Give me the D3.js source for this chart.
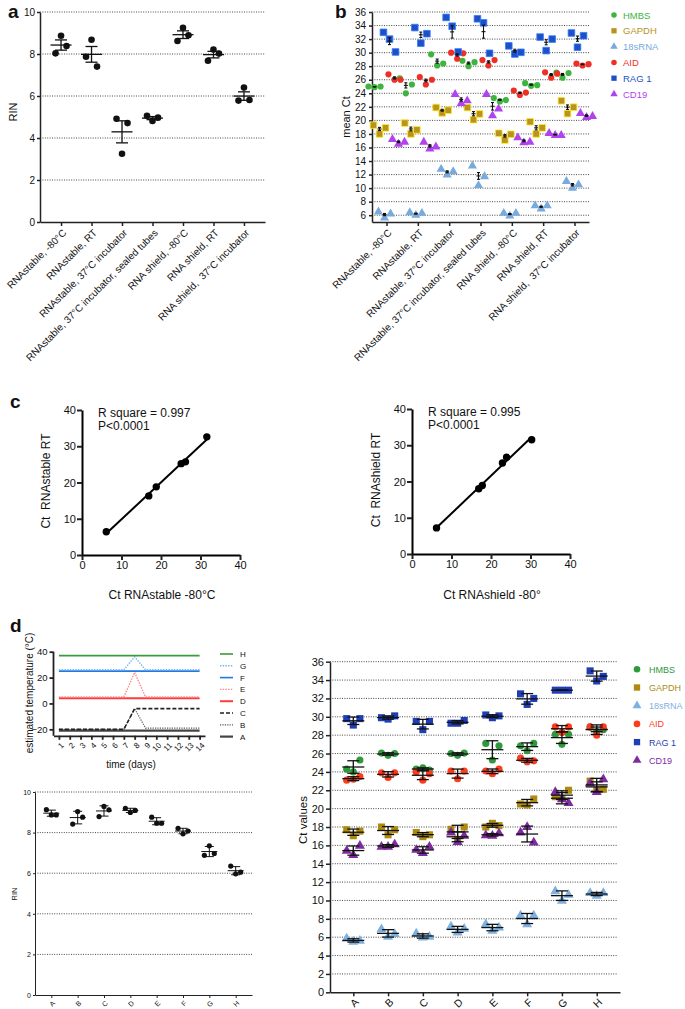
<!DOCTYPE html>
<html>
<head>
<meta charset="utf-8">
<script src="https://cdn.jsdelivr.net/npm/d3@7/dist/d3.min.js"></script>
<style>
  body { margin: 0; background: #fff; }
  text { white-space: pre; }
</style>
</head>
<body>
<svg id="fig" width="685" height="1009"></svg>
<script>
// ---------- panel a : RIN per storage condition
var conditions = ["RNAstable, -80°C", "RNAstable, RT", "RNAstable, 37°C incubator",
  "RNAstable, 37°C incubator, sealed tubes", "RNA shield, -80°C", "RNA shield, RT", "RNA shield,  37°C incubator"];
var rinA = [[8.03, 8.87, 8.38], [7.87, 8.68, 7.40], [4.92, 3.25, 4.71], [5.06, 4.81, 4.97],
  [8.62, 9.25, 8.89], [7.68, 8.21, 8.02], [5.78, 6.40, 5.81]];
var ticksA = [0, 2, 4, 6, 8, 10];

// ---------- panel b : mean Ct per gene and condition
var genes = ["HMBS", "GAPDH", "18sRNA", "AID", "RAG 1", "CD19"];
var ctB_HMBS = [[25.0, 24.9, 25.0], [26.2, 24.0, 25.3], [29.75, 28.1, 28.4], [28.8, 28.0, 28.6], [23.3, 22.8, 23.0], [25.5, 25.1, 25.2], [27.05, 26.3, 27.0]];
var ctB_GAPDH = [[19.3, 18.0, 18.9], [19.6, 18.0, 18.6], [21.9, 21.1, 21.5], [21.9, 20.1, 20.95], [18.1, 17.1, 17.95], [19.8, 18.0, 18.9], [22.9, 21.0, 21.95]];
var ctB_18s = [[6.5, 5.6, 6.2], [6.4, 6.0, 6.3], [12.8, 11.95, 12.45], [13.3, 10.4, 11.7], [6.3, 5.9, 6.3], [7.4, 6.95, 7.4], [11.0, 10.0, 10.5]];
var ctB_AID = [[26.8, 26.0, 26.0], [26.4, 25.3, 26.0], [30.0, 29.1, 29.9], [28.9, 28.1, 28.9], [24.4, 23.75, 24.1], [27.1, 26.3, 26.9], [28.4, 28.1, 28.3]];
var ctB_RAG1 = [[33.0, 32.0, 30.1], [33.7, 31.4, 32.8], [35.2, 33.9, 30.1], [35.0, 34.4, 29.9], [31.0, 29.8, 30.05], [32.3, 30.3, 32.0], [32.9, 30.8, 32.5]];
var ctB_CD19 = [[17.2, 16.5, 16.8], [16.8, 15.8, 16.1], [23.85, 22.5, 22.9], [23.85, 20.7, 21.7], [17.45, 16.7, 16.8], [18.1, 17.8, 17.8], [21.05, 20.45, 20.6]];
var ticksB = [6, 8, 10, 12, 14, 16, 18, 20, 22, 24, 26, 28, 30, 32, 34, 36];

// ---------- panel c : RT vs -80°C
var ctStableM80 = [6.15, 16.9, 18.8, 25.1, 26.2, 31.6];
var ctStableRT = [6.4, 16.3, 18.8, 25.2, 25.7, 32.6];
var ctShieldM80 = [6.2, 16.9, 17.8, 22.9, 23.95, 30.3];
var ctShieldRT = [7.2, 18.0, 18.9, 25.1, 26.7, 31.5];
var ticksC = [0, 10, 20, 30, 40];

// ---------- panel d : temperature profiles
var days = [1, 2, 3, 4, 5, 6, 7, 8, 9, 10, 11, 12, 13, 14];
var tempH = [37, 37, 37, 37, 37, 37, 37, 37, 37, 37, 37, 37, 37, 37];
var tempG = [26, 26, 26, 26, 26, 26, 26, 36, 26, 26, 26, 26, 26, 26];
var tempF = [25, 25, 25, 25, 25, 25, 25, 25, 25, 25, 25, 25, 25, 25];
var tempE = [5, 5, 5, 5, 5, 5, 5, 24, 5, 5, 5, 5, 5, 5];
var tempD = [4, 4, 4, 4, 4, 4, 4, 4, 4, 4, 4, 4, 4, 4];
var tempC = [-20, -20, -20, -20, -20, -20, -20, -4, -4, -4, -4, -4, -4, -4];
var tempB = [-20, -20, -20, -20, -20, -20, -20, -4, -19, -19, -19, -19, -19, -19];
var tempA = [-21, -21, -21, -21, -21, -21, -21, -21, -21, -21, -21, -21, -21, -21];
var ticksTemp = [-20, 0, 20, 40];

// ---------- panel d : RIN and Ct per condition A-H
var groupsD = ["A", "B", "C", "D", "E", "F", "G", "H"];
var rinD = [[9.13, 8.87, 8.87], [8.42, 9.04, 8.76], [8.79, 9.29, 9.12], [9.20, 8.99, 9.09],
  [8.76, 8.46, 8.46], [8.21, 7.94, 8.08], [6.88, 7.35, 6.97], [6.35, 5.97, 6.05]];
var ctD_HMBS = [[24.3, 24.0, 25.3], [26.05, 25.8, 26.0], [24.3, 24.45, 24.2], [26.0, 25.8, 26.05], [27.1, 25.3, 26.85], [26.85, 26.3, 27.1], [28.1, 27.0, 28.1], [28.9, 28.4, 28.6]];
var ctD_GAPDH = [[17.7, 17.05, 17.55], [18.0, 17.15, 17.7], [17.4, 16.95, 17.15], [17.75, 16.65, 18.0], [18.0, 18.4, 18.15], [20.5, 20.4, 21.05], [21.3, 21.1, 22.0], [23.0, 22.0, 22.1]];
var ctD_18s = [[5.85, 5.5, 5.6], [6.85, 6.05, 6.35], [6.4, 5.95, 6.05], [7.15, 6.5, 6.9], [7.4, 6.7, 7.05], [8.35, 7.4, 8.35], [11.0, 9.97, 10.6], [10.8, 10.5, 10.8]];
var ctD_AID = [[23.1, 23.2, 23.5], [23.9, 23.4, 23.9], [24.0, 23.1, 23.8], [24.1, 23.25, 24.1], [24.1, 23.8, 24.3], [25.5, 25.1, 25.2], [28.9, 28.3, 28.9], [28.9, 28.0, 28.9]];
var ctD_RAG1 = [[29.8, 29.1, 29.8], [29.9, 29.75, 30.1], [29.5, 28.6, 29.5], [29.3, 29.3, 29.6], [30.2, 29.9, 30.1], [32.5, 31.35, 32.0], [32.9, 32.9, 32.9], [35.0, 33.9, 34.4]];
var ctD_CD19 = [[15.4, 14.95, 15.95], [15.85, 15.85, 16.1], [15.5, 15.15, 15.85], [17.4, 16.35, 17.05], [17.1, 17.05, 17.3], [17.4, 18.0, 16.3], [21.8, 21.0, 20.6], [22.75, 21.8, 23.2]];
var ticksD = [0, 2, 4, 6, 8, 10, 12, 14, 16, 18, 20, 22, 24, 26, 28, 30, 32, 34, 36];

// ================= drawing
var FONT = "'Liberation Sans', Arial, Helvetica, sans-serif";
var svg = d3.select("#fig").attr("font-family", FONT);
var spread = [-5.5, 0, 5.5];
var shapes = [d3.symbolCircle, d3.symbolSquare, d3.symbolTriangle, d3.symbolCircle, d3.symbolSquare, d3.symbolTriangle];

function label(x, y, s, size, weight) {
  return svg.append("text").attr("x", x).attr("y", y).attr("font-size", size)
    .attr("font-weight", weight || "normal").attr("fill", "#111").text(s);
}
function vlabel(x, y, s, size) {
  return svg.append("text").attr("transform", "translate(" + x + "," + y + ") rotate(-90)")
    .attr("text-anchor", "middle").attr("font-size", size).attr("fill", "#111").text(s);
}
function grid(g, y, ticks, x0, x1) {
  g.selectAll(null).data(ticks).enter().append("line")
    .attr("x1", x0).attr("x2", x1).attr("y1", function(d) { return y(d); }).attr("y2", function(d) { return y(d); })
    .attr("stroke", "#333").attr("stroke-width", 0.9).attr("stroke-dasharray", "1,1.4");
}
function styleAxis(g, size, w) {
  g.attr("font-family", FONT).attr("font-size", size);
  g.select(".domain").attr("stroke", "#222").attr("stroke-width", w);
  g.selectAll(".tick line").attr("stroke", "#222").attr("stroke-width", w);
  g.selectAll(".tick text").attr("fill", "#111");
}
function tiltLabels(g, dx, dy) {
  g.selectAll(".tick text").attr("x", 0).attr("y", 0).attr("dy", "0.35em")
    .attr("text-anchor", "end").attr("transform", "translate(" + dx + "," + dy + ") rotate(-45)");
}
function errBar(g, cx, m, e, y, wMean, wCap, sw) {
  g.append("line").attr("x1", cx).attr("x2", cx).attr("y1", y(m - e)).attr("y2", y(m + e));
  g.append("line").attr("x1", cx - wCap / 2).attr("x2", cx + wCap / 2).attr("y1", y(m - e)).attr("y2", y(m - e));
  g.append("line").attr("x1", cx - wCap / 2).attr("x2", cx + wCap / 2).attr("y1", y(m + e)).attr("y2", y(m + e));
  g.append("line").attr("x1", cx - wMean / 2).attr("x2", cx + wMean / 2).attr("y1", y(m)).attr("y2", y(m));
  g.selectAll("line").attr("stroke", "#111").attr("stroke-width", sw);
}
function sem(v) { return d3.deviation(v) / Math.sqrt(v.length); }

// ---------- a
(function() {
  var x = d3.scalePoint().domain(conditions).range([40, 265]).padding(0.69);
  var y = d3.scaleLinear().domain([0, 10]).range([222, 12]);
  var g = svg.append("g");
  grid(g, y, ticksA.slice(1), 40, 265);
  var xa = g.append("g").attr("transform", "translate(0,222)").call(d3.axisBottom(x).tickSize(4).tickSizeOuter(0));
  styleAxis(xa, 10, 1.5); tiltLabels(xa, 3, 9);
  var ya = g.append("g").attr("transform", "translate(40,0)").call(d3.axisLeft(y).tickValues(ticksA).tickSize(3).tickSizeOuter(0).tickPadding(2));
  styleAxis(ya, 10, 1.5);
  conditions.forEach(function(c, i) {
    var v = rinA[i];
    g.selectAll(null).data(v).enter().append("circle")
      .attr("cx", function(d, j) { return x(c) + spread[j]; }).attr("cy", function(d) { return y(d); })
      .attr("r", 3.3).attr("fill", "#111");
    errBar(g.append("g"), x(c), d3.mean(v), sem(v), y, 21, 12, 1.3);
  });
  label(8, 18, "a", 19, "bold");
  vlabel(17, 112, "RIN", 11);
})();

// ---------- b
(function() {
  var colors = ["#3db43d", "#b8931e", "#78aadb", "#ee2f26", "#1f4fc6", "#b143ef"];
  var series = [ctB_HMBS, ctB_GAPDH, ctB_18s, ctB_AID, ctB_RAG1, ctB_CD19];
  var geneShift = [-12, -7, -2, 8, 3, 12];
  var x = d3.scalePoint().domain(conditions).range([372, 589]).padding(0.463);
  var y = d3.scaleLinear().domain([5, 36]).range([222, 12]);
  var g = svg.append("g");
  grid(g, y, ticksB, 372, 589);
  var xa = g.append("g").attr("transform", "translate(0,222)").call(d3.axisBottom(x).tickSize(4).tickSizeOuter(0));
  styleAxis(xa, 10, 1.5); tiltLabels(xa, 3, 9);
  var ya = g.append("g").attr("transform", "translate(372,0)").call(d3.axisLeft(y).tickValues(ticksB).tickSize(3).tickSizeOuter(0).tickPadding(3));
  styleAxis(ya, 10, 1.5);
  var sizes = [30, 44, 36, 30, 44, 36];
  series.forEach(function(s, k) {
    var col = colors[k];
    var sym = d3.symbol().type(shapes[k]).size(sizes[k]);
    conditions.forEach(function(c, i) {
      var cx = x(c) + geneShift[k];
      g.selectAll(null).data(s[i]).enter().append("path").attr("d", sym)
        .attr("transform", function(d, j) { return "translate(" + (cx + spread[j] * 1.1) + "," + y(d) + ")"; })
        .attr("fill", col).attr("stroke", k == 1 || k == 4 ? d3.color(col).brighter(1.3) : "none").attr("stroke-width", 0.8);
    });
  });
  series.forEach(function(s, k) {
    conditions.forEach(function(c, i) {
      errBar(g.append("g"), x(c) + geneShift[k], d3.mean(s[i]), sem(s[i]) * 0.6, y, 4, 3, 1.1);
    });
  });
  genes.forEach(function(gn, k) {
    var ly = 15 + 15.8 * k;
    g.append("path").attr("d", d3.symbol().type(shapes[k]).size(k == 1 || k == 4 ? 28 : 24))
      .attr("transform", "translate(614," + ly + ")").attr("fill", colors[k]);
    g.append("text").attr("x", 623).attr("y", ly + 3.5).attr("font-size", 9.5).attr("fill", colors[k]).text(gn);
  });
  label(335, 18, "b", 19, "bold");
  vlabel(350, 117, "mean Ct", 11);
})();

// ---------- c
function scatterC(xv, yv, x0, y0, rText, xTitle, yTitle, yTitleX) {
  var x = d3.scaleLinear().domain([0, 40]).range([x0, x0 + 158]);
  var y = d3.scaleLinear().domain([0, 40]).range([y0, y0 - 145]);
  var g = svg.append("g");
  var xa = g.append("g").attr("transform", "translate(0," + y0 + ")").call(d3.axisBottom(x).tickValues(ticksC).tickSize(5).tickSizeOuter(0).tickPadding(1));
  styleAxis(xa, 11, 2);
  var ya = g.append("g").attr("transform", "translate(" + x0 + ",0)").call(d3.axisLeft(y).tickValues(ticksC).tickSize(5).tickSizeOuter(0).tickPadding(1));
  styleAxis(ya, 11, 2);
  xa.select(".domain").attr("stroke", "#000"); ya.select(".domain").attr("stroke", "#000");
  // least-squares fit through the points
  var mx = d3.mean(xv), my = d3.mean(yv);
  var b = d3.sum(xv, function(d, i) { return (d - mx) * (yv[i] - my); }) / d3.sum(xv, function(d) { return (d - mx) * (d - mx); });
  var a0 = my - b * mx;
  var ext = d3.extent(xv);
  g.append("line").attr("x1", x(ext[0])).attr("x2", x(ext[1])).attr("y1", y(a0 + b * ext[0])).attr("y2", y(a0 + b * ext[1]))
    .attr("stroke", "#000").attr("stroke-width", 2);
  g.selectAll(null).data(xv).enter().append("circle")
    .attr("cx", function(d) { return x(d); }).attr("cy", function(d, i) { return y(yv[i]); })
    .attr("r", 3.7).attr("fill", "#000");
  label(x0 + 16, y0 - 138, "R square = " + rText, 12);
  label(x0 + 16, y0 - 125, "P<0.0001", 12);
  svg.append("text").attr("x", x0 + 80).attr("y", 599).attr("text-anchor", "middle").attr("font-size", 12).attr("fill", "#111").text(xTitle);
  vlabel(yTitleX, y0 - 74, yTitle, 12);
}
scatterC(ctStableM80, ctStableRT, 82, 555, "0.997", "Ct RNAstable -80°C", "Ct  RNAstable RT", 50);
scatterC(ctShieldM80, ctShieldRT, 412, 554, "0.995", "Ct RNAshield -80°", "Ct  RNAshield RT", 380);
label(10, 408, "c", 19, "bold");

// ---------- d : temperature
(function() {
  var x = d3.scaleLinear().domain([0.5, 14.5]).range([53.5, 205]);
  var y = d3.scaleLinear().domain([-25, 40]).range([735.8, 651.7]);
  var g = svg.append("g");
  var series = [
    { k: "H", v: tempH, c: "#3c9a3c", dash: null, w: 1.6 },
    { k: "G", v: tempG, c: "#7db6f3", dash: "1.5,1.2", w: 1.4 },
    { k: "F", v: tempF, c: "#1f7ae6", dash: null, w: 1.6 },
    { k: "E", v: tempE, c: "#ff8a8a", dash: "1.5,1.2", w: 1.4 },
    { k: "D", v: tempD, c: "#ff3b3b", dash: null, w: 2 },
    { k: "C", v: tempC, c: "#222", dash: "4,2", w: 1.6 },
    { k: "B", v: tempB, c: "#555", dash: "1.2,1.2", w: 1.2 },
    { k: "A", v: tempA, c: "#444", dash: null, w: 2.2 }
  ];
  var line = d3.line().x(function(d, i) { return x(days[i]); }).y(function(d) { return y(d); });
  series.slice().reverse().forEach(function(s) {
    g.append("path").attr("d", line(s.v)).attr("fill", "none").attr("stroke", s.c)
      .attr("stroke-width", s.w).attr("stroke-dasharray", s.dash);
  });
  var xa = g.append("g").attr("transform", "translate(0,735.8)").call(d3.axisBottom(x).tickValues(days).tickSize(4).tickSizeOuter(0));
  styleAxis(xa, 8, 1.8); tiltLabels(xa, 3, 8);
  var ya = g.append("g").attr("transform", "translate(53.5,0)").call(d3.axisLeft(y).tickValues(ticksTemp).tickSize(4).tickSizeOuter(0).tickPadding(2));
  styleAxis(ya, 9.5, 1.8);
  ya.select(".domain").attr("d", "M0," + y(40) + "V735.8");
  series.forEach(function(s, i) {
    var ly = 654 + 11.8 * i;
    g.append("line").attr("x1", 220).attr("x2", 233).attr("y1", ly).attr("y2", ly)
      .attr("stroke", s.c).attr("stroke-width", s.w).attr("stroke-dasharray", s.dash);
    g.append("text").attr("x", 240).attr("y", ly + 3).attr("font-size", 8).attr("fill", "#111").text(s.k);
  });
  svg.append("text").attr("x", 131).attr("y", 768).attr("text-anchor", "middle").attr("font-size", 10).attr("fill", "#111").text("time (days)");
  vlabel(33, 693, "estimated temperature (°C)", 10);
  label(10, 632, "d", 19, "bold");
})();

// ---------- d : RIN
(function() {
  var x = d3.scalePoint().domain(groupsD).range([35, 252]).padding(0.62);
  var y = d3.scaleLinear().domain([0, 10]).range([995, 792]);
  var g = svg.append("g");
  grid(g, y, [2, 4, 6, 8, 10], 35, 252);
  var xa = g.append("g").attr("transform", "translate(0,995)").call(d3.axisBottom(x).tickSize(3).tickSizeOuter(0));
  styleAxis(xa, 7, 1); tiltLabels(xa, 2, 7);
  var ya = g.append("g").attr("transform", "translate(35,0)").call(d3.axisLeft(y).tickValues(ticksA).tickSize(2).tickSizeOuter(0).tickPadding(2));
  styleAxis(ya, 7, 1);
  groupsD.forEach(function(c, i) {
    var v = rinD[i];
    g.selectAll(null).data(v).enter().append("circle")
      .attr("cx", function(d, j) { return x(c) + spread[j] * 0.9; }).attr("cy", function(d) { return y(d); })
      .attr("r", 2.6).attr("fill", "#111");
    errBar(g.append("g"), x(c), d3.mean(v), d3.deviation(v), y, 16, 9, 1);
  });
  vlabel(17, 894, "RIN", 7.5);
})();

// ---------- d : Ct values
(function() {
  var colors = ["#2f9a3c", "#ad8b10", "#7eb0e0", "#ff3b1c", "#1f3db4", "#7e2ba0"];
  var series = [ctD_HMBS, ctD_GAPDH, ctD_18s, ctD_AID, ctD_RAG1, ctD_CD19];
  var x = d3.scalePoint().domain(groupsD).range([330, 620]).padding(0.67);
  var y = d3.scaleLinear().domain([0, 36]).range([992.3, 661.7]);
  var g = svg.append("g");
  grid(g, y, ticksD.slice(1), 330, 618);
  var xa = g.append("g").attr("transform", "translate(0,992.3)").call(d3.axisBottom(x).tickSize(4).tickSizeOuter(0));
  styleAxis(xa, 10.5, 1.5); tiltLabels(xa, 3, 8);
  var ya = g.append("g").attr("transform", "translate(330,0)").call(d3.axisLeft(y).tickValues(ticksD).tickSize(4).tickSizeOuter(0).tickPadding(2));
  styleAxis(ya, 11, 1.5);
  var sizes = [40, 50, 44, 40, 50, 44];
  series.forEach(function(s, k) {
    var col = colors[k];
    var sym = d3.symbol().type(shapes[k]).size(sizes[k]);
    groupsD.forEach(function(c, i) {
      g.selectAll(null).data(s[i]).enter().append("path").attr("d", sym)
        .attr("transform", function(d, j) { return "translate(" + (x(c) + spread[j] * 1.2) + "," + y(d) + ")"; })
        .attr("fill", col);
    });
  });
  series.forEach(function(s, k) {
    groupsD.forEach(function(c, i) {
      errBar(g.append("g"), x(c), d3.mean(s[i]), d3.deviation(s[i]), y, 22, 12, 1.3);
    });
  });
  genes.forEach(function(gn, k) {
    var ly = 669.3 + 18.2 * k;
    g.append("path").attr("d", d3.symbol().type(shapes[k]).size(k == 1 || k == 4 ? 40 : 34))
      .attr("transform", "translate(637," + ly + ")").attr("fill", colors[k]);
    g.append("text").attr("x", 649).attr("y", ly + 3.5).attr("font-size", 9).attr("fill", colors[k]).text(gn);
  });
  vlabel(307, 820, "Ct values", 11.5);
})();
</script>
</body>
</html>
